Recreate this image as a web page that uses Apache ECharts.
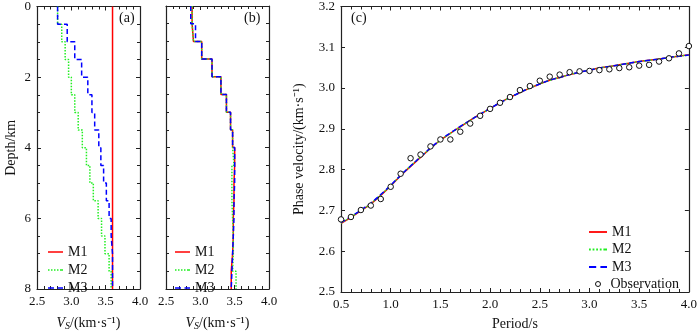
<!DOCTYPE html>
<html>
<head>
<meta charset="utf-8">
<script src="https://cdn.jsdelivr.net/npm/echarts@6/dist/echarts.min.js"></script>
<style>
  html, body { margin: 0; padding: 0; background: #fff; }
  #chart { width: 700px; height: 336px; }
</style>
</head>
<body>
<div id="chart"></div>
<script>
// layer boundaries (km) for the velocity profiles
const layerDepths = [0, 0.5, 1.0, 1.5, 2.0, 2.5, 3.0, 3.5, 4.0, 4.5, 5.0, 5.5, 6.0, 6.5, 7.0, 7.5, 8.0];

// (a) initial models, Vs per layer
const initM1 = [3.60, 3.60, 3.60, 3.60, 3.60, 3.60, 3.60, 3.60, 3.60, 3.60, 3.60, 3.60, 3.60, 3.60, 3.60, 3.60];
const initM2 = [2.80, 2.86, 2.91, 2.96, 3.00, 3.05, 3.10, 3.16, 3.22, 3.27, 3.32, 3.39, 3.44, 3.49, 3.55, 3.58];
const initM3 = [2.80, 2.94, 3.05, 3.15, 3.24, 3.30, 3.34, 3.40, 3.43, 3.47, 3.51, 3.55, 3.58, 3.60, 3.60, 3.60];

// (b) inverted models
const invM1 = [2.88, 2.90, 3.02, 3.17, 3.30, 3.38, 3.44, 3.47, 3.50, 3.49, 3.49, 3.48, 3.48, 3.47, 3.45, 3.45];
const invM2 = [2.88, 2.90, 3.02, 3.17, 3.30, 3.38, 3.44, 3.47, 3.49, 3.46, 3.46, 3.47, 3.48, 3.48, 3.47, 3.52];
const invM3 = [2.86, 2.93, 3.02, 3.17, 3.30, 3.38, 3.44, 3.47, 3.50, 3.50, 3.49, 3.49, 3.48, 3.47, 3.46, 3.45];

// (c) dispersion curves
const periods = [0.5, 0.6, 0.7, 0.8, 0.9, 1.0, 1.1, 1.2, 1.3, 1.4, 1.5, 1.6, 1.7, 1.8, 1.9, 2.0, 2.1, 2.2,
  2.3, 2.4, 2.5, 2.6, 2.7, 2.8, 2.9, 3.0, 3.1, 3.2, 3.3, 3.4, 3.5, 3.6, 3.7, 3.8, 3.9, 4.0];
const observed = [2.678, 2.684, 2.701, 2.712, 2.728, 2.758, 2.790, 2.828, 2.837, 2.857, 2.874, 2.874, 2.893, 2.913, 2.932, 2.949, 2.964, 2.978,
  2.995, 3.005, 3.018, 3.028, 3.033, 3.039, 3.041, 3.042, 3.044, 3.046, 3.049, 3.051, 3.055, 3.057, 3.065, 3.073, 3.085, 3.103];
const curveM1 = [2.668, 2.683, 2.699, 2.716, 2.737, 2.760, 2.785, 2.808, 2.830, 2.852, 2.872, 2.889, 2.905, 2.921, 2.936, 2.950, 2.964, 2.977,
  2.989, 3.000, 3.010, 3.019, 3.026, 3.033, 3.039, 3.044, 3.049, 3.053, 3.057, 3.061, 3.065, 3.068, 3.071, 3.075, 3.078, 3.082];
const curveM2 = [2.669, 2.684, 2.700, 2.717, 2.738, 2.761, 2.786, 2.809, 2.831, 2.852, 2.872, 2.889, 2.905, 2.921, 2.936, 2.950, 2.964, 2.977,
  2.989, 3.000, 3.010, 3.019, 3.026, 3.033, 3.039, 3.044, 3.049, 3.053, 3.057, 3.061, 3.065, 3.068, 3.071, 3.075, 3.078, 3.081];
const curveM3 = [2.670, 2.685, 2.701, 2.718, 2.739, 2.762, 2.786, 2.809, 2.831, 2.853, 2.873, 2.890, 2.906, 2.921, 2.936, 2.950, 2.964, 2.977,
  2.989, 3.000, 3.010, 3.019, 3.026, 3.033, 3.039, 3.044, 3.049, 3.053, 3.057, 3.061, 3.065, 3.068, 3.071, 3.075, 3.078, 3.081];

const FONT = "Liberation Serif";
const AXIS_COLOR = "#222";
const RED = "#ff0000", GREEN = "#22ee22", BLUE = "#0000ff";

// legend icons drawn as little line samples
const ICON_SOLID = "path://M0,0h30v3h-30z";
const ICON_DOTTED = "path://M0,0h3v3h-3z M6,0h3v3h-3z M12,0h3v3h-3z M18,0h3v3h-3z M24,0h3v3h-3z M27,0h3v3h-3z";
const ICON_DASHED = "path://M0,0h12v3h-12z M19,0h11v3h-11z";
const obsStyle = { color: "#fff", borderColor: "#111", borderWidth: 1, opacity: 1 };

// step profile: each layer -> [v, top], [v, bottom]
function profile(vals) {
  const pts = [];
  vals.forEach((v, i) => {
    pts.push([v, layerDepths[i]]);
    pts.push([v, layerDepths[i + 1]]);
  });
  return pts;
}

const axisLine = { show: true, onZero: false, lineStyle: { color: AXIS_COLOR, width: 1.2 } };
const tick = { show: true, inside: true, length: 4, lineStyle: { color: AXIS_COLOR, width: 1 } };
const minor = (n) => ({ show: true, splitNumber: n, length: 3, lineStyle: { color: AXIS_COLOR, width: 1 } });
const label = { fontFamily: FONT, fontSize: 13, color: "#111", margin: 6 };
const vsName = "{v|V}{s|S}/(km·s⁻¹)";
const vsRich = {
  v: { fontFamily: FONT, fontSize: 14, fontStyle: "italic", color: "#111" },
  s: { fontFamily: FONT, fontSize: 10, fontStyle: "italic", color: "#111", padding: [6, 0, 0, 0] }
};

function vsAxes(gridIndex) {
  return [
    {
      type: "value", gridIndex, position: "bottom", min: 2.5, max: 4.0, interval: 0.5,
      axisLine, axisTick: tick, minorTick: minor(5), splitLine: { show: false }, minorSplitLine: { show: false },
      axisLabel: { ...label, formatter: (v) => v.toFixed(1) },
      name: vsName, nameLocation: "middle", nameGap: 26,
      nameTextStyle: { fontFamily: FONT, fontSize: 14, color: "#111", rich: vsRich }
    },
    {
      type: "value", gridIndex, position: "top", min: 2.5, max: 4.0, interval: 0.5,
      axisLine, axisTick: tick, minorTick: minor(5), splitLine: { show: false }, axisLabel: { show: false }
    }
  ];
}
function depthAxes(gridIndex, withLabels) {
  return [
    {
      type: "value", gridIndex, position: "left", inverse: true, min: 0, max: 8, interval: 2,
      axisLine, axisTick: tick, minorTick: minor(4), splitLine: { show: false },
      axisLabel: withLabels ? { ...label } : { show: false },
      name: withLabels ? "Depth/km" : "", nameLocation: "middle", nameGap: 19,
      nameTextStyle: { fontFamily: FONT, fontSize: 14, color: "#111" }
    },
    {
      type: "value", gridIndex, position: "right", inverse: true, min: 0, max: 8, interval: 2,
      axisLine, axisTick: tick, minorTick: minor(4), splitLine: { show: false }, axisLabel: { show: false }
    }
  ];
}

function lineSeries(name, color, type, xAxisIndex, yAxisIndex, data, smooth) {
  return {
    name, type: "line", xAxisIndex, yAxisIndex, data, smooth: !!smooth,
    symbol: "none", showSymbol: false,
    lineStyle: { color, width: 1.5, type },
    itemStyle: { color }
  };
}

const modelLegend = [
  { name: "M1", icon: ICON_SOLID },
  { name: "M2", icon: ICON_DOTTED },
  { name: "M3", icon: ICON_DASHED }
];
function legendFor(left, top, data, gap, itemWidth, itemHeight) {
  return {
    orient: "vertical", left, top, itemWidth, itemHeight: itemHeight || 14, itemGap: gap,
    textStyle: { fontFamily: FONT, fontSize: 14, color: "#111" },
    data, selectedMode: false
  };
}

const chart = echarts.init(document.getElementById("chart"));
const dispersion = (vals) => periods.map((p, i) => [p, vals[i]]);

chart.setOption({
  animation: false,
  grid: [
    { left: 37, top: 6, width: 103, height: 292 },
    { left: 166, top: 6, width: 103, height: 292 },
    { left: 341, top: 6, width: 351, height: 292 }
  ],
  xAxis: [
    ...vsAxes(0),
    ...vsAxes(1),
    {
      type: "value", gridIndex: 2, position: "bottom", min: 0.5, max: 4.0, interval: 0.5,
      axisLine, axisTick: tick, minorTick: minor(5), splitLine: { show: false },
      axisLabel: { ...label, formatter: (v) => v.toFixed(1) },
      name: "Period/s", nameLocation: "middle", nameGap: 25,
      nameTextStyle: { fontFamily: FONT, fontSize: 14, color: "#111" }
    },
    {
      type: "value", gridIndex: 2, position: "top", min: 0.5, max: 4.0, interval: 0.5,
      axisLine, axisTick: tick, minorTick: minor(5), splitLine: { show: false }, axisLabel: { show: false }
    }
  ],
  yAxis: [
    ...depthAxes(0, true),
    ...depthAxes(1, false),
    {
      type: "value", gridIndex: 2, position: "left", min: 2.5, max: 3.2, interval: 0.1,
      axisLine, axisTick: tick, splitLine: { show: false },
      axisLabel: { ...label, formatter: (v) => v.toFixed(1) },
      name: "Phase velocity/(km·s⁻¹)", nameLocation: "middle", nameGap: 35,
      nameTextStyle: { fontFamily: FONT, fontSize: 14, color: "#111" }
    },
    {
      type: "value", gridIndex: 2, position: "right", min: 2.5, max: 3.2, interval: 0.1,
      axisLine, axisTick: tick, splitLine: { show: false }, axisLabel: { show: false }
    }
  ],
  legend: [
    legendFor(43, 240, modelLegend, 4, 15),
    legendFor(170, 240, modelLegend, 4, 15),
    legendFor(584, 220, modelLegend, 3.5, 18),
    legendFor(590, 272, [{ name: "Observation", icon: "circle", itemStyle: obsStyle }], 0, 15, 5)
  ],
  graphic: [
    { type: "text", left: 119, top: 11, style: { text: "(a)", font: "14px " + FONT, fill: "#111" } },
    { type: "text", left: 244, top: 11, style: { text: "(b)", font: "14px " + FONT, fill: "#111" } },
    { type: "text", left: 351, top: 11, style: { text: "(c)", font: "14px " + FONT, fill: "#111" } }
  ],
  series: [
    lineSeries("M1", RED, "solid", 0, 0, profile(initM1)),
    lineSeries("M2", GREEN, [1.5, 1.5], 0, 0, profile(initM2)),
    lineSeries("M3", BLUE, [5, 3], 0, 0, profile(initM3)),
    lineSeries("M1", RED, "solid", 2, 2, profile(invM1)),
    lineSeries("M2", GREEN, [1.5, 1.5], 2, 2, profile(invM2)),
    lineSeries("M3", BLUE, [5, 3], 2, 2, profile(invM3)),
    lineSeries("M1", RED, "solid", 4, 4, dispersion(curveM1), true),
    lineSeries("M2", GREEN, [1.5, 1.5], 4, 4, dispersion(curveM2), true),
    lineSeries("M3", BLUE, [5, 3], 4, 4, dispersion(curveM3), true),
    {
      name: "Observation", type: "scatter", xAxisIndex: 4, yAxisIndex: 4,
      data: dispersion(observed), symbol: "circle", symbolSize: 5.5,
      itemStyle: obsStyle, z: 5
    }
  ]
});
</script>
</body>
</html>
